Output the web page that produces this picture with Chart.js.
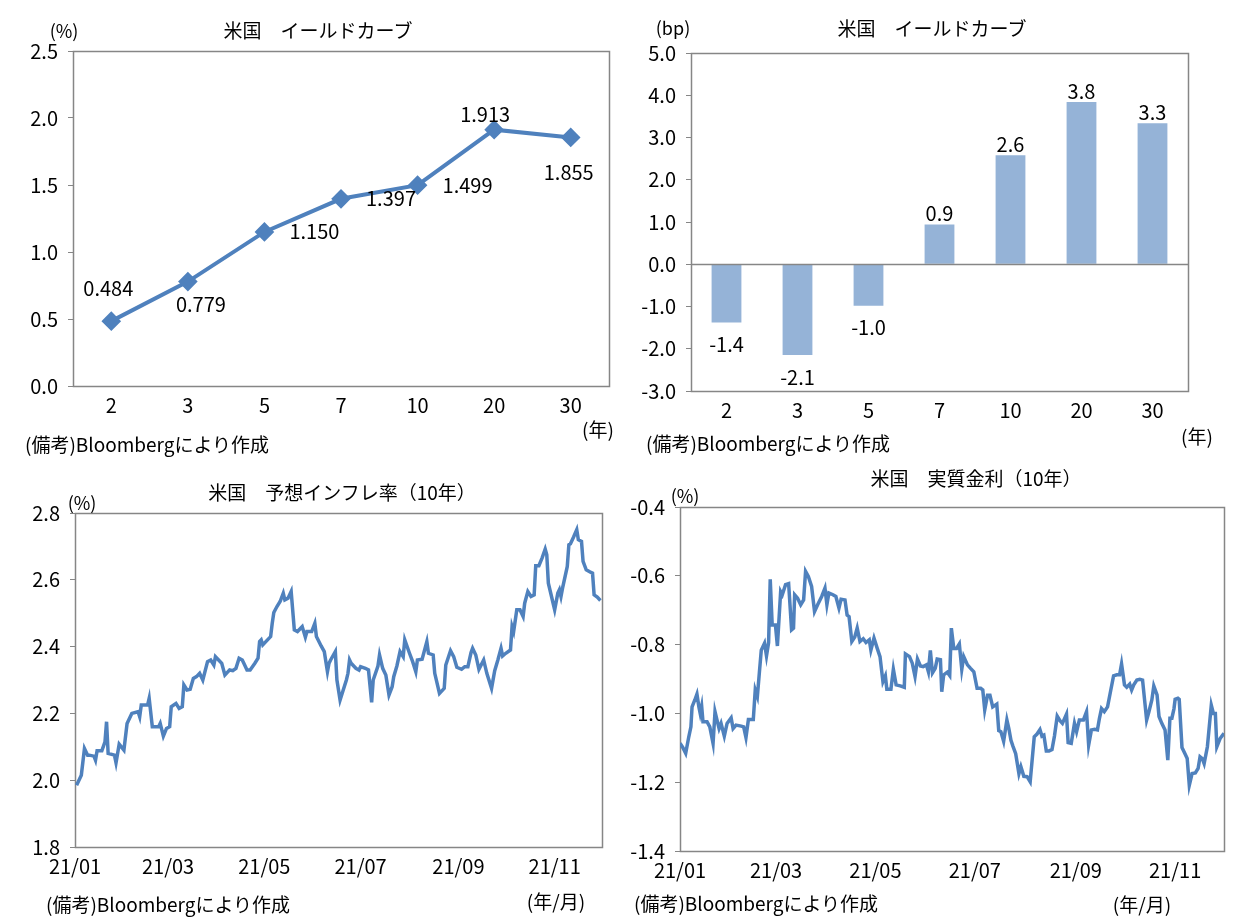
<!DOCTYPE html>
<html>
<head>
<meta charset="utf-8">
<script src="https://cdn.jsdelivr.net/npm/chart.js@4"></script>
<style>
    body { margin: 0; background: #fff; font-family: "Noto Sans CJK JP", sans-serif; color: #000; }
    #content { position: relative; width: 1252px; height: 920px; overflow: hidden; }
    canvas { position: absolute; }
    .txt { position: absolute; white-space: nowrap; transform: translate(-50%, -50%); }
    .note { position: absolute; white-space: nowrap; transform: translate(0, -50%); font-size: 19px; }
    .title { font-size: 19px; }
    .unit { font-size: 18px; }
    .unitx { font-size: 19px; }
</style>
</head>
<body>
<div id="content">
    <canvas id="c1" width="626" height="460" style="left:0;top:0"></canvas>
    <canvas id="c2" width="626" height="460" style="left:626px;top:0"></canvas>
    <canvas id="c3" width="626" height="460" style="left:0;top:460px"></canvas>
    <canvas id="c4" width="626" height="460" style="left:626px;top:460px"></canvas>

    <div class="txt title" style="left:318px;top:29px">米国　イールドカーブ</div>
    <div class="txt title" style="left:932px;top:27px">米国　イールドカーブ</div>
    <div class="txt title" style="left:342px;top:491px">米国　予想インフレ率（10年）</div>
    <div class="txt title" style="left:976px;top:477px">米国　実質金利（10年）</div>

    <div class="txt unit" style="left:64px;top:30px">(%)</div>
    <div class="txt unit" style="left:673px;top:27px">(bp)</div>
    <div class="txt unit" style="left:82px;top:502px">(%)</div>
    <div class="txt unit" style="left:685px;top:495px">(%)</div>

    <div class="txt unitx" style="left:598px;top:428px">(年)</div>
    <div class="txt unitx" style="left:1197px;top:435px">(年)</div>
    <div class="txt unitx" style="left:556px;top:900px">(年/月)</div>
    <div class="txt unitx" style="left:1142px;top:903px">(年/月)</div>

    <div class="note" style="left:25px;top:443px">(備考)Bloombergにより作成</div>
    <div class="note" style="left:646px;top:442px">(備考)Bloombergにより作成</div>
    <div class="note" style="left:46px;top:903px">(備考)Bloombergにより作成</div>
    <div class="note" style="left:634px;top:902px">(備考)Bloombergにより作成</div>
</div>
<script>
// maturities (years)
const maturities = ['2', '3', '5', '7', '10', '20', '30'];
// yield curve level (%)
const yieldLevel = [0.484, 0.779, 1.150, 1.397, 1.499, 1.913, 1.855];
// change (bp)
const yieldChange = [-1.38, -2.15, -0.98, 0.94, 2.58, 3.84, 3.34];

// x ticks for time series: days from 2021/01/01
const monthTickDays = [0, 59, 120, 181, 243, 304];
const monthTickLabels = ['21/01', '21/03', '21/05', '21/07', '21/09', '21/11'];

// breakeven inflation 10y (%)
const bepDays = [
    1, 4, 6, 8, 9, 12, 13, 14, 17, 19,
    20, 21, 25, 26, 28, 31, 33, 36, 40, 41,
    42, 46, 47, 49, 53, 54, 56, 58, 60, 61,
    64, 66, 68, 69, 71, 73, 75, 77, 79, 81,
    84, 86, 88, 89, 91, 93, 95, 97, 98, 100,
    102, 104, 106, 107, 109, 111, 114, 116, 117, 118,
    119, 122, 124, 125, 126, 128, 130, 132, 133, 135,
    137, 139, 141, 143, 144, 146, 147, 150, 152, 153,
    156, 158, 160, 161, 162, 165, 166, 168, 170, 172,
    173, 174, 175, 178, 180, 181, 184, 186, 188, 189,
    192, 193, 195, 197, 199, 201, 202, 204, 206, 208,
    209, 212, 214, 216, 217, 220, 223, 224, 227, 228,
    231, 234, 235, 238, 240, 242, 245, 247, 249, 251,
    252, 254, 256, 259, 261, 264, 266, 268, 270, 271,
    273, 276, 277, 278, 280, 282, 284, 285, 287, 289,
    291, 292, 294, 296, 298, 299, 300, 302, 304, 306,
    307, 308, 309, 312, 313, 314, 316, 318, 319, 321,
    322, 324, 327, 328, 329, 331, 333
];
const bepValues = [
    1.985, 2.015, 2.095, 2.075, 2.075, 2.072, 2.060, 2.088, 2.088, 2.115,
    2.175, 2.080, 2.075, 2.052, 2.108, 2.090, 2.170, 2.200, 2.205, 2.190,
    2.225, 2.225, 2.245, 2.160, 2.160, 2.170, 2.132, 2.155, 2.160, 2.220,
    2.230, 2.215, 2.220, 2.285, 2.270, 2.272, 2.305, 2.310, 2.320, 2.300,
    2.355, 2.360, 2.345, 2.370, 2.360, 2.350, 2.315, 2.325, 2.330, 2.328,
    2.335, 2.365, 2.360, 2.350, 2.330, 2.330, 2.350, 2.365, 2.415, 2.420,
    2.405, 2.420, 2.430, 2.470, 2.502, 2.520, 2.535, 2.560, 2.540, 2.545,
    2.565, 2.450, 2.445, 2.455, 2.460, 2.428, 2.445, 2.445, 2.470, 2.430,
    2.402, 2.385, 2.325, 2.350, 2.360, 2.385, 2.300, 2.240, 2.270, 2.300,
    2.320, 2.360, 2.350, 2.335, 2.330, 2.340, 2.335, 2.330, 2.233, 2.300,
    2.342, 2.375, 2.335, 2.315, 2.255, 2.280, 2.310, 2.342, 2.385, 2.370,
    2.420, 2.380, 2.355, 2.325, 2.360, 2.362, 2.415, 2.380, 2.375, 2.320,
    2.260, 2.275, 2.345, 2.388, 2.370, 2.338, 2.332, 2.340, 2.340, 2.382,
    2.395, 2.375, 2.332, 2.360, 2.320, 2.275, 2.328, 2.360, 2.395, 2.372,
    2.380, 2.390, 2.460, 2.445, 2.510, 2.510, 2.490, 2.530, 2.565, 2.550,
    2.555, 2.642, 2.642, 2.665, 2.692, 2.675, 2.590, 2.550, 2.510, 2.560,
    2.570, 2.550, 2.575, 2.640, 2.705, 2.708, 2.728, 2.750, 2.720, 2.715,
    2.655, 2.630, 2.622, 2.620, 2.555, 2.548, 2.538
];

// real yield 10y (%)
const realDays = [
    0.0, 1.7, 3.5, 5.4, 6.7, 7.4, 9.1, 10.4, 11.6, 12.4,
    13.3, 14.1, 16.6, 18.3, 20.3, 21.5, 22.7, 24.0, 25.2, 27.2,
    28.9, 31.4, 32.6, 34.4, 37.6, 39.1, 40.5, 42.0, 45.0, 46.2,
    47.5, 48.7, 49.9, 51.9, 53.1, 54.4, 55.4, 56.6, 58.6, 59.8,
    61.8, 62.8, 64.8, 66.7, 68.5, 69.7, 70.4, 72.2, 74.1, 75.9,
    77.1, 78.8, 80.8, 82.6, 84.5, 87.0, 89.0, 90.2, 91.4, 93.9,
    95.7, 97.6, 98.9, 101.3, 102.6, 103.8, 105.5, 107.3, 108.8, 110.5,
    112.5, 114.2, 116.2, 117.2, 119.1, 121.1, 122.8, 124.6, 126.1, 127.0,
    129.5, 131.0, 132.7, 135.2, 137.7, 138.4, 140.9, 142.6, 144.3, 145.8,
    147.6, 149.3, 151.3, 152.5, 153.7, 155.0, 156.7, 157.9, 159.9, 160.7,
    161.9, 164.1, 165.6, 166.6, 168.1, 169.8, 171.5, 173.0, 174.2, 176.5,
    178.4, 180.4, 182.4, 184.6, 185.9, 187.1, 188.8, 190.3, 192.0, 194.5,
    195.7, 197.0, 198.7, 200.7, 201.9, 203.2, 204.4, 206.1, 208.1, 209.3,
    211.1, 213.1, 215.0, 217.5, 219.2, 221.0, 222.2, 223.4, 224.9, 226.6,
    228.4, 229.9, 231.6, 233.3, 234.8, 237.3, 238.3, 240.2, 242.2, 243.5,
    245.2, 247.7, 249.6, 250.9, 252.6, 254.6, 256.3, 257.5, 258.8, 260.5,
    262.5, 264.5, 266.2, 268.2, 269.9, 271.1, 272.9, 274.3, 276.1, 277.3,
    278.6, 280.5, 282.3, 284.0, 286.5, 287.9, 289.7, 290.9, 292.9, 294.1,
    295.8, 297.8, 299.5, 300.8, 302.0, 303.3, 304.0, 305.7, 306.5, 308.2,
    309.9, 311.4, 312.7, 314.4, 316.4, 318.1, 319.3, 320.6, 321.8, 323.8,
    326.2, 327.5, 328.7, 329.6, 331.6, 334.0
];
const realValues = [
    -1.087, -1.099, -1.116, -1.068, -1.039, -0.981, -0.961, -0.944, -0.981, -1.000,
    -0.979, -1.024, -1.024, -1.039, -1.087, -0.995, -1.019, -1.044, -1.029, -1.066,
    -1.029, -1.013, -1.044, -1.034, -1.037, -1.039, -1.070, -1.018, -1.018, -0.932,
    -0.951, -0.883, -0.816, -0.796, -0.833, -0.794, -0.610, -0.743, -0.743, -0.804,
    -0.646, -0.655, -0.626, -0.623, -0.757, -0.752, -0.655, -0.665, -0.684, -0.670,
    -0.587, -0.602, -0.631, -0.704, -0.684, -0.660, -0.636, -0.684, -0.650, -0.655,
    -0.660, -0.694, -0.668, -0.670, -0.714, -0.719, -0.791, -0.778, -0.752, -0.791,
    -0.783, -0.794, -0.786, -0.816, -0.781, -0.811, -0.835, -0.908, -0.891, -0.930,
    -0.930, -0.872, -0.917, -0.920, -0.924, -0.827, -0.835, -0.854, -0.893, -0.842,
    -0.862, -0.864, -0.859, -0.879, -0.817, -0.882, -0.869, -0.842, -0.844, -0.937,
    -0.888, -0.880, -0.890, -0.752, -0.811, -0.811, -0.798, -0.872, -0.835, -0.859,
    -0.869, -0.879, -0.927, -0.927, -0.932, -0.990, -0.947, -0.947, -0.981, -0.973,
    -1.050, -1.053, -1.081, -1.019, -1.044, -1.078, -1.095, -1.117, -1.175, -1.155,
    -1.183, -1.184, -1.199, -1.068, -1.060, -1.047, -1.066, -1.063, -1.109, -1.109,
    -1.105, -1.066, -1.008, -1.021, -1.029, -1.002, -1.085, -1.087, -1.029, -1.053,
    -1.019, -1.019, -0.995, -1.092, -1.048, -1.046, -1.048, -1.015, -0.986, -0.995,
    -0.981, -0.932, -0.891, -0.888, -0.888, -0.856, -0.917, -0.924, -0.915, -0.932,
    -0.917, -0.903, -0.901, -0.903, -1.019, -0.995, -0.961, -0.920, -0.946, -1.009,
    -1.029, -1.048, -1.136, -1.014, -1.014, -0.986, -0.959, -0.956, -0.959, -1.099,
    -1.116, -1.131, -1.209, -1.175, -1.173, -1.160, -1.126, -1.131, -1.146, -1.097,
    -0.976, -1.000, -1.000, -1.097, -1.073, -1.058
];

const FONT = '"Noto Sans CJK JP", sans-serif';
const LINE_BLUE = '#4F81BD';
const BAR_BLUE = '#95B3D7';
const FRAME = '#868686';

// where the point labels of the yield curve sit (offset from the marker)
const curveLabelOffsets = [[-3, -33], [13, 23], [50, 0], [50, 0], [50, 0], [-9, -15], [-2, 35]];

function pairs(xs, ys) {
    let out = [];
    for (let i = 0; i < xs.length; i++) {
        out.push({x: xs[i], y: ys[i]});
    }
    return out;
}

const framePlugin = {
    id: 'frame',
    beforeDatasetsDraw(chart) {
        let a = chart.chartArea;
        let ctx = chart.ctx;
        ctx.save();
        ctx.strokeStyle = FRAME;
        ctx.lineWidth = 1.5;
        ctx.strokeRect(Math.round(a.left) + 0.5, Math.round(a.top) + 0.5,
            Math.round(a.right - a.left), Math.round(a.bottom - a.top));
        ctx.restore();
    }
};

const zeroLinePlugin = {
    id: 'zeroLine',
    afterDatasetsDraw(chart) {
        let a = chart.chartArea;
        let y = Math.round(chart.scales.y.getPixelForValue(0)) + 0.5;
        let ctx = chart.ctx;
        ctx.save();
        ctx.strokeStyle = FRAME;
        ctx.lineWidth = 1.5;
        ctx.beginPath();
        ctx.moveTo(a.left, y);
        ctx.lineTo(a.right, y);
        ctx.stroke();
        ctx.restore();
    }
};

const curveLabelPlugin = {
    id: 'curveLabels',
    afterDatasetsDraw(chart) {
        let meta = chart.getDatasetMeta(0);
        let ctx = chart.ctx;
        ctx.save();
        ctx.font = '20px ' + FONT;
        ctx.fillStyle = '#000';
        ctx.textAlign = 'center';
        ctx.textBaseline = 'middle';
        meta.data.forEach((pt, i) => {
            let off = curveLabelOffsets[i];
            ctx.fillText(yieldLevel[i].toFixed(3), pt.x + off[0], pt.y + off[1]);
        });
        ctx.restore();
    }
};

const barLabelPlugin = {
    id: 'barLabels',
    afterDatasetsDraw(chart) {
        let meta = chart.getDatasetMeta(0);
        let ctx = chart.ctx;
        ctx.save();
        ctx.font = '20px ' + FONT;
        ctx.fillStyle = '#000';
        ctx.textAlign = 'center';
        ctx.textBaseline = 'middle';
        meta.data.forEach((bar, i) => {
            let v = yieldChange[i];
            let y = v >= 0 ? bar.y - 11 : bar.y + 22;
            ctx.fillText(v.toFixed(1), bar.x, y);
        });
        ctx.restore();
    }
};

function yAxis(min, max, step, width) {
    return {
        min: min,
        max: max,
        afterFit: s => { s.width = width; },
        afterBuildTicks: s => {
            let t = [];
            for (let v = min; v <= max + 1e-9; v += step) t.push({value: Math.round(v * 10) / 10});
            s.ticks = t;
        },
        border: {display: false},
        grid: {drawOnChartArea: false, drawTicks: true, tickLength: 5, color: FRAME},
        ticks: {
            padding: 10,
            color: '#000',
            font: {family: FONT, size: 20},
            callback: v => Number(v).toFixed(1)
        }
    };
}

function categoryX() {
    return {
        offset: true,
        afterFit: s => { s.height = 40; },
        border: {display: false},
        grid: {display: false, drawTicks: false},
        ticks: {padding: 7, color: '#000', font: {family: FONT, size: 20}, maxRotation: 0}
    };
}

function timeX() {
    return {
        type: 'linear',
        min: 0,
        max: 334,
        afterFit: s => { s.height = 40; },
        afterBuildTicks: s => { s.ticks = monthTickDays.map(d => ({value: d})); },
        border: {display: false},
        grid: {display: false, drawTicks: false},
        ticks: {
            padding: 7,
            color: '#000',
            maxRotation: 0,
            autoSkip: false,
            font: {family: FONT, size: 20},
            callback: v => monthTickLabels[monthTickDays.indexOf(v)]
        }
    };
}

function baseOptions(padding) {
    return {
        responsive: false,
        animation: false,
        layout: {padding: padding},
        plugins: {legend: {display: false}, tooltip: {enabled: false}, title: {display: false}}
    };
}

// 1. yield curve level
let opt1 = baseOptions({left: 13, right: 17, top: 51, bottom: 34});
opt1.scales = {x: categoryX(), y: yAxis(0, 2.5, 0.5, 60)};
new Chart(document.getElementById('c1').getContext('2d'), {
    type: 'line',
    data: {
        labels: maturities,
        datasets: [{
            data: yieldLevel,
            borderColor: LINE_BLUE,
            backgroundColor: LINE_BLUE,
            borderWidth: 4,
            pointStyle: 'rectRot',
            pointRadius: 7,
            tension: 0
        }]
    },
    options: opt1,
    plugins: [framePlugin, curveLabelPlugin]
});

// 2. yield change
let opt2 = baseOptions({left: 5, right: 64, top: 53, bottom: 29});
opt2.scales = {x: categoryX(), y: yAxis(-3, 5, 1, 60)};
new Chart(document.getElementById('c2').getContext('2d'), {
    type: 'bar',
    data: {
        labels: maturities,
        datasets: [{
            data: yieldChange,
            backgroundColor: BAR_BLUE,
            categoryPercentage: 1,
            barPercentage: 0.42
        }]
    },
    options: opt2,
    plugins: [framePlugin, zeroLinePlugin, barLabelPlugin]
});

// 3. breakeven inflation
let opt3 = baseOptions({left: 15, right: 24, top: 53, bottom: 33});
opt3.scales = {x: timeX(), y: yAxis(1.8, 2.8, 0.2, 60)};
new Chart(document.getElementById('c3').getContext('2d'), {
    type: 'line',
    data: {
        datasets: [{
            data: pairs(bepDays, bepValues),
            borderColor: LINE_BLUE,
            borderWidth: 3.5,
            pointRadius: 0,
            tension: 0
        }]
    },
    options: opt3,
    plugins: [framePlugin]
});

// 4. real yield
let opt4 = baseOptions({left: 2, right: 28, top: 47, bottom: 29});
opt4.scales = {x: timeX(), y: yAxis(-1.4, -0.4, 0.2, 52)};
new Chart(document.getElementById('c4').getContext('2d'), {
    type: 'line',
    data: {
        datasets: [{
            data: pairs(realDays, realValues),
            borderColor: LINE_BLUE,
            borderWidth: 3.5,
            pointRadius: 0,
            tension: 0
        }]
    },
    options: opt4,
    plugins: [framePlugin]
});
</script>
</body>
</html>
